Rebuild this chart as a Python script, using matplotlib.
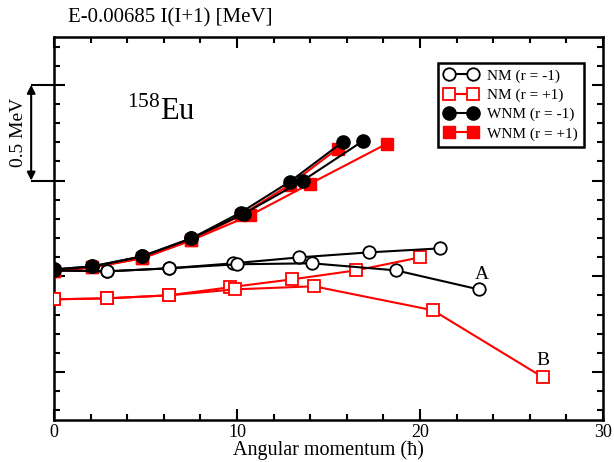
import matplotlib
matplotlib.use('Agg')  # Headless mode
import matplotlib.pyplot as plt
from matplotlib.ticker import MultipleLocator

plt.rcParams['font.family'] = ['Liberation Serif', 'DejaVu Serif']
plt.rcParams['mathtext.fontset'] = 'custom'
plt.rcParams['mathtext.rm'] = 'Liberation Serif'

# NM (r = -1), two branches sharing the low-spin part
nm_m_x1 = [0, 2.9, 6.3, 9.8, 13.4, 17.2, 21.1]
nm_m_y1 = [0.531, 0.526, 0.542, 0.568, 0.599, 0.625, 0.646]
nm_m_x2 = [0, 2.9, 6.3, 10.0, 14.1, 18.7, 23.2]
nm_m_y2 = [0.531, 0.526, 0.542, 0.563, 0.568, 0.531, 0.432]

# NM (r = +1)
nm_p_x1 = [0, 2.9, 6.3, 9.6, 13.0, 16.5, 20.0]
nm_p_y1 = [0.380, 0.385, 0.401, 0.443, 0.484, 0.531, 0.599]
nm_p_x2 = [0, 2.9, 6.3, 9.9, 14.2, 20.7, 26.7]
nm_p_y2 = [0.380, 0.385, 0.401, 0.432, 0.448, 0.323, -0.026]

# WNM (r = -1)
wnm_m_x1 = [0, 2.1, 4.8, 7.5, 10.2, 12.9, 15.8]
wnm_m_y1 = [0.536, 0.552, 0.604, 0.698, 0.833, 0.995, 1.203]
wnm_m_x2 = [0, 2.1, 4.8, 7.5, 10.4, 13.6, 16.9]
wnm_m_y2 = [0.536, 0.552, 0.604, 0.698, 0.828, 1.000, 1.208]

# WNM (r = +1)
wnm_p_x1 = [0, 2.1, 4.8, 7.5, 10.2, 12.9, 15.5]
wnm_p_y1 = [0.526, 0.547, 0.594, 0.688, 0.818, 0.979, 1.167]
wnm_p_x2 = [0, 2.1, 4.8, 7.5, 10.7, 14.0, 18.2]
wnm_p_y2 = [0.526, 0.547, 0.594, 0.688, 0.818, 0.984, 1.193]

labels = ['NM (r = -1)', 'NM (r = +1)', 'WNM (r = -1)', 'WNM (r = +1)']

fig = plt.figure(figsize=(6.14, 4.62), dpi=100)
ax = fig.add_axes([0.088, 0.091, 0.894, 0.829])

lw = 1.5
nm_m = dict(color='black', lw=lw, marker='o', ms=9, mfc='white', mec='black', mew=1.3, zorder=4)
nm_p = dict(color='red', lw=lw, marker='s', ms=8.3, mfc='white', mec='red', mew=1.3, zorder=3)
wnm_m = dict(color='black', lw=lw, marker='o', ms=9.5, mfc='black', mec='black', zorder=4)
wnm_p = dict(color='red', lw=lw, marker='s', ms=8.5, mfc='red', mec='red', zorder=3)

ax.plot(nm_p_x1, nm_p_y1, **nm_p)
ax.plot(nm_p_x2, nm_p_y2, **nm_p)
ax.plot(nm_m_x1, nm_m_y1, **nm_m)
ax.plot(nm_m_x2, nm_m_y2, **nm_m)
ax.plot(wnm_p_x1, wnm_p_y1, **wnm_p)
ax.plot(wnm_p_x2, wnm_p_y2, **wnm_p)
ax.plot(wnm_m_x1, wnm_m_y1, **wnm_m)
ax.plot(wnm_m_x2, wnm_m_y2, **wnm_m)

ax.set_xlim(0, 30)
ax.set_ylim(-0.25, 1.75)
ax.xaxis.set_major_locator(MultipleLocator(10))
ax.xaxis.set_minor_locator(MultipleLocator(2))
ax.yaxis.set_major_locator(MultipleLocator(0.5))
ax.yaxis.set_minor_locator(MultipleLocator(0.1))
ax.tick_params(which='both', direction='in', top=True, right=True, width=1.5,
               labelsize=13, labelleft=False, pad=3)
ax.tick_params(which='major', length=8)
ax.tick_params(which='minor', length=4)
for s in ax.spines.values():
    s.set_linewidth(1.8)

ax.set_xlabel('Angular momentum (ħ)', fontsize=14.5, labelpad=-0.5)

fig.text(0.111, 0.961, 'E-0.00685 I(I+1) [MeV]', fontsize=15, ha='left', va='center')
ax.text(4.0, 1.318, r'$^{158}$Eu', fontsize=22, ha='left', va='baseline')
ax.text(23.4, 0.51, 'A', fontsize=14, ha='center', va='center')
ax.text(26.7, 0.062, 'B', fontsize=14, ha='center', va='center')

# 0.5 MeV scale bar on the left
for yv in (1.0, 1.5):
    ax.plot([-1.2, 0], [yv, yv], color='black', lw=1.5, clip_on=False)
ax.annotate('', xy=(-1.25, 1.5), xytext=(-1.25, 1.0), annotation_clip=False,
            arrowprops=dict(arrowstyle='<|-|>', color='black', lw=1.5,
                            shrinkA=0, shrinkB=0, mutation_scale=12))
ax.text(-1.95, 1.25, '0.5 MeV', fontsize=14, rotation=90, ha='center', va='center')

handles = [
    plt.Line2D([], [], **nm_m),
    plt.Line2D([], [], **nm_p),
    plt.Line2D([], [], **wnm_m),
    plt.Line2D([], [], **wnm_p),
]
leg = ax.legend(handles, labels, loc='upper right', bbox_to_anchor=(0.965, 0.932),
                borderaxespad=0, fancybox=False, fontsize=11, numpoints=2,
                handlelength=2.2, handletextpad=0.6, labelspacing=0.35,
                borderpad=0.4, framealpha=1)
leg.get_frame().set_edgecolor('black')
leg.get_frame().set_linewidth(1.8)

fig.savefig('out.png', dpi=100)
plt.close(fig)
